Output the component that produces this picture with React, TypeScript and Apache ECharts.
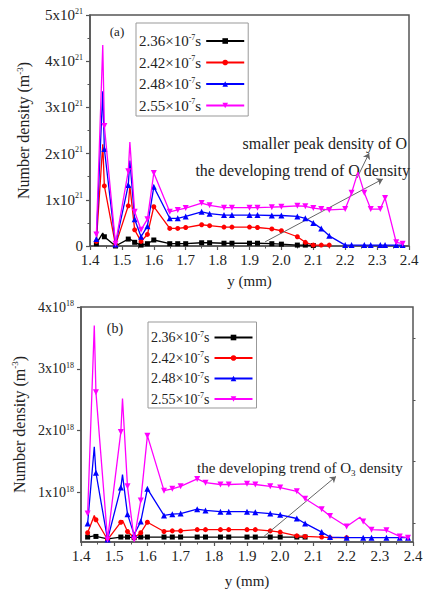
import React, { useEffect, useRef } from 'react';
import * as echarts from 'echarts';

const FONT = 'Liberation Serif';

// legend labels (times, ×10^-7 s)
const timeLabels = ['2.36', '2.42', '2.48', '2.55'];
const colors = ['#000000', '#ff0000', '#0000ff', '#ff00ff'];
const symbols = ['rect', 'circle', 'triangle', 'triangle'];
const symbolRotates = [0, 0, 0, 180];

// ---- panel (a): O density, units of 1e21 m^-3 ----
const xA = [1.42, 1.44, 1.445, 1.48, 1.52, 1.525, 1.54, 1.56, 1.58, 1.60, 1.65, 1.675, 1.70, 1.75, 1.775, 1.82, 1.845, 1.90, 1.925, 1.97, 2.00, 2.05, 2.075, 2.10, 2.125, 2.15, 2.20, 2.22, 2.24, 2.26, 2.28, 2.31, 2.325, 2.36, 2.38];
const a236 = [0.05, 0.28, 0.2, 0.0, 0.15, 0.15, 0.08, 0.02, 0.05, 0.13, 0.05, 0.05, 0.05, 0.07, 0.07, 0.06, 0.06, 0.06, 0.06, 0.05, 0.04, 0.02, 0.02, 0.01, null, null, null, null, null, null, null, null, null, null, null];
const a242 = [0.1, 2.2, 1.3, 0.02, 0.87, 1.3, 0.35, 0.1, 0.25, 0.85, 0.38, 0.38, 0.4, 0.46, 0.44, 0.41, 0.41, 0.41, 0.4, 0.37, 0.33, 0.2, 0.08, 0.02, 0.02, 0.02, null, null, null, null, null, null, null, null, null];
const a248 = [0.15, 3.35, 2.1, 0.03, 1.32, 1.85, 0.58, 0.2, 0.43, 1.28, 0.6, 0.6, 0.64, 0.74, 0.7, 0.67, 0.67, 0.67, 0.67, 0.66, 0.66, 0.64, 0.6, 0.5, 0.38, 0.22, 0.02, 0.02, 0.02, 0.02, 0.02, 0.02, 0.02, 0.02, 0.02];
const a255 = [0.25, 4.35, 2.6, 0.05, 1.62, 2.25, 0.74, 0.35, 0.58, 1.58, 0.74, 0.78, 0.82, 0.93, 0.88, 0.83, 0.83, 0.83, 0.83, 0.84, 0.85, 0.87, 0.86, 0.82, 0.8, 0.78, 0.8, 1.15, 1.6, 1.15, 0.8, 0.8, 1.04, 0.08, 0.05];
const peaksA = [1.44, 1.525, 2.24];
const yTicksA = [0, 1, 2, 3, 4, 5];

// ---- panel (b): O3 density, units of 1e18 m^-3 ----
const xB = [1.42, 1.44, 1.445, 1.48, 1.52, 1.525, 1.54, 1.56, 1.58, 1.60, 1.65, 1.675, 1.70, 1.75, 1.775, 1.82, 1.845, 1.90, 1.925, 1.97, 2.00, 2.05, 2.075, 2.125, 2.15, 2.20, 2.24, 2.25, 2.275, 2.32, 2.36, 2.385];
const b236 = [0.28, 0.3, 0.29, 0.25, 0.28, 0.28, 0.28, 0.27, 0.28, 0.28, 0.28, 0.28, 0.28, 0.28, 0.28, 0.28, 0.28, 0.28, 0.28, 0.28, 0.28, 0.28, 0.28, null, null, null, null, null, null, null, null, null];
const b242 = [0.35, 0.63, 0.56, 0.24, 0.52, 0.55, 0.37, 0.27, 0.35, 0.52, 0.37, 0.38, 0.38, 0.4, 0.4, 0.4, 0.4, 0.4, 0.4, 0.38, 0.36, 0.3, 0.29, 0.28, 0.27, 0.27, null, null, null, null, null, null];
const b248 = [0.5, 1.74, 1.32, 0.24, 1.08, 1.29, 0.65, 0.32, 0.53, 1.06, 0.63, 0.65, 0.66, 0.73, 0.71, 0.69, 0.69, 0.69, 0.68, 0.66, 0.64, 0.58, 0.5, 0.36, 0.28, 0.27, 0.27, 0.27, 0.27, 0.27, 0.27, 0.27];
const b255 = [0.66, 3.7, 2.62, 0.24, 1.98, 2.52, 1.1, 0.24, 0.87, 1.92, 1.03, 1.06, 1.1, 1.22, 1.16, 1.13, 1.13, 1.14, 1.13, 1.1, 1.08, 1.02, 0.9, 0.73, 0.62, 0.45, 0.6, 0.53, 0.4, 0.39, 0.29, 0.27];
const peaksB = [1.44, 1.525, 2.24];
const yTicksB = [1, 2, 3, 4];
const yMinorB = [0.5, 1.5, 2.5, 3.5];

// annotation arrows, in data coordinates [from, to]
const arrowsA = [
  [[1.949, 0.09], [2.318, 1.45]],
  [[2.237, 1.47], [2.275, 2.01]],
];
const arrowsB = [
  [[1.951, 0.29], [2.168, 1.26]],
];

const AX = '#555';
const TXT = '#222';

function buildSeries(prefix: string, xs: number[], ys: (number | null)[], peaks: number[], idx: number, axis: number, arrows: number[][][] | null) {
  const data: any[] = [];
  xs.forEach((x, i) => {
    const y = ys[i];
    if (y == null) return;
    if (peaks.includes(x)) data.push({ value: [x, y], symbol: 'none' });
    else data.push([x, y]);
  });
  const s: any = {
    type: 'line',
    name: prefix + timeLabels[idx],
    xAxisIndex: axis,
    yAxisIndex: axis,
    data,
    symbol: symbols[idx],
    symbolRotate: symbolRotates[idx],
    symbolSize: idx >= 2 ? 6 : 5,
    lineStyle: { color: colors[idx], width: 1.3 },
    itemStyle: { color: colors[idx] },
    z: 3 + idx,
  };
  if (arrows) {
    s.markLine = {
      silent: true,
      symbol: ['none', 'arrow'],
      symbolSize: 6,
      lineStyle: { color: '#666', width: 1, type: 'solid' },
      label: { show: false },
      data: arrows.map((a) => [{ coord: a[0] }, { coord: a[1] }]),
    };
  }
  return s;
}

const supRich = (size: number) => ({
  t: { fontFamily: FONT, fontSize: size, lineHeight: size + 1, color: TXT },
  s: { fontFamily: FONT, fontSize: Math.round(size * 0.55), lineHeight: Math.round(size * 0.55), verticalAlign: 'top', color: TXT },
});

function legendOpt(prefix: string, left: number, top: number, size: number, gap: number, padding: number[]) {
  return {
    orient: 'vertical',
    left,
    top,
    align: 'right',
    itemWidth: 38,
    itemHeight: 7,
    itemGap: gap,
    padding,
    borderColor: '#999',
    borderWidth: 1,
    backgroundColor: '#fff',
    selectedMode: false,
    data: timeLabels.map((t) => prefix + t),
    formatter: (name: string) => `{t|${name.slice(prefix.length)}×10}{s|-7}{t|s}`,
    textStyle: { fontFamily: FONT, fontSize: size, color: TXT, rich: supRich(size) },
  };
}

function xAxisOpt(grid: number, nameGap: number) {
  return {
    type: 'value',
    gridIndex: grid,
    min: 1.4,
    max: 2.4,
    interval: 0.1,
    axisLine: { show: true, onZero: false, lineStyle: { color: AX, width: 1.5 } },
    axisTick: { show: true, length: 4, lineStyle: { color: AX, width: 1.2 } },
    minorTick: { show: true, splitNumber: 2, length: 2.5, lineStyle: { color: AX, width: 1 } },
    splitLine: { show: false },
    axisLabel: { fontFamily: FONT, fontSize: 15, color: TXT, margin: 6, formatter: (v: number) => v.toFixed(1) },
    name: 'y (mm)',
    nameLocation: 'middle',
    nameGap,
    nameTextStyle: { fontFamily: FONT, fontSize: 15, color: TXT },
  };
}

const yName = '{t|Number density (m}{s|-3}{t|)}';

export default function App() {
  const ref = useRef<HTMLDivElement>(null);
  useEffect(() => {
    const chart = echarts.init(ref.current!, null, { renderer: 'svg' });
    const series = [
      buildSeries('a ', xA, a236, peaksA, 0, 0, null),
      buildSeries('a ', xA, a242, peaksA, 1, 0, null),
      buildSeries('a ', xA, a248, peaksA, 2, 0, null),
      buildSeries('a ', xA, a255, peaksA, 3, 0, arrowsA),
      buildSeries('b ', xB, b236, peaksB, 0, 1, null),
      buildSeries('b ', xB, b242, peaksB, 1, 1, null),
      buildSeries('b ', xB, b248, peaksB, 2, 1, null),
      buildSeries('b ', xB, b255, peaksB, 3, 1, arrowsB),
    ];
    chart.setOption({
      animation: false,
      backgroundColor: '#fff',
      textStyle: { fontFamily: FONT },
      grid: [
        { left: 90, top: 15, width: 319, height: 231, show: true, borderColor: AX, borderWidth: 1.5, backgroundColor: 'transparent' },
        { left: 81, top: 307, width: 332, height: 236, show: true, borderColor: AX, borderWidth: 1.5, backgroundColor: 'transparent' },
      ],
      xAxis: [xAxisOpt(0, 27), xAxisOpt(1, 31)],
      yAxis: [
        {
          type: 'value',
          gridIndex: 0,
          min: 0,
          max: 5,
          interval: 1,
          axisLine: { show: true, lineStyle: { color: AX, width: 1.5 } },
          axisTick: { show: true, length: 4, lineStyle: { color: AX, width: 1.2 } },
          minorTick: { show: true, splitNumber: 2, length: 2.5, lineStyle: { color: AX } },
          splitLine: { show: false },
          axisLabel: {
            margin: 7,
            fontFamily: FONT,
            fontSize: 15,
            color: TXT,
            customValues: yTicksA,
            formatter: (v: number) => (v === 0 ? '{t|0}' : `{t|${v}x10}{s|21}`),
            rich: supRich(15),
          },
          name: yName,
          nameLocation: 'middle',
          nameGap: 58,
          nameTextStyle: { fontFamily: FONT, fontSize: 16, color: TXT, rich: supRich(16) },
        },
        {
          type: 'value',
          gridIndex: 1,
          min: 0.2,
          max: 4,
          axisLine: { show: true, lineStyle: { color: AX, width: 1.5 } },
          axisTick: { show: true, length: 4, customValues: yTicksB, lineStyle: { color: AX, width: 1.2 } },
          splitLine: { show: false },
          axisLabel: {
            margin: 7,
            fontFamily: FONT,
            fontSize: 14,
            color: TXT,
            customValues: yTicksB,
            formatter: (v: number) => `{t|${v}x10}{s|18}`,
            rich: supRich(14),
          },
          name: yName,
          nameLocation: 'middle',
          nameGap: 50,
          nameTextStyle: { fontFamily: FONT, fontSize: 16, color: TXT, rich: supRich(16) },
        },
        {
          type: 'value',
          gridIndex: 1,
          min: 0.2,
          max: 4,
          axisLine: { show: false },
          axisTick: { show: true, length: 2.5, customValues: yMinorB, lineStyle: { color: AX, width: 1 } },
          axisLabel: { show: false },
          splitLine: { show: false },
        },
      ],
      legend: [
        legendOpt('a ', 136, 23, 15, 6, [10, 3, 3, 3]),
        legendOpt('b ', 148, 322, 14, 6, [8, 3, 2, 3]),
      ],
      graphic: [
        { type: 'text', x: 117, y: 31, style: { text: '(a)', font: `13px ${FONT}`, fill: TXT, align: 'center', verticalAlign: 'middle' } },
        { type: 'text', x: 115, y: 328, style: { text: '(b)', font: `14px ${FONT}`, fill: TXT, align: 'center', verticalAlign: 'middle' } },
        { type: 'text', x: 407, y: 143, style: { text: 'smaller peak density of O', font: `16px ${FONT}`, fill: TXT, align: 'right', verticalAlign: 'middle' } },
        { type: 'text', x: 410, y: 170, style: { text: 'the developing trend of O density', font: `16px ${FONT}`, fill: TXT, align: 'right', verticalAlign: 'middle' } },
        {
          type: 'text', x: 197, y: 468,
          style: {
            text: '{t|the developing trend of O}{u|3}{t| density}',
            fill: TXT,
            verticalAlign: 'middle',
            rich: {
              t: { fontFamily: FONT, fontSize: 15, lineHeight: 18, color: TXT },
              u: { fontFamily: FONT, fontSize: 9, lineHeight: 9, verticalAlign: 'bottom', color: TXT },
            },
          },
        },
      ],
      series,
    });
    return () => chart.dispose();
  }, []);
  return <div ref={ref} style={{ position: 'fixed', left: 0, top: 0, width: 428, height: 589, background: '#fff' }} />;
}
